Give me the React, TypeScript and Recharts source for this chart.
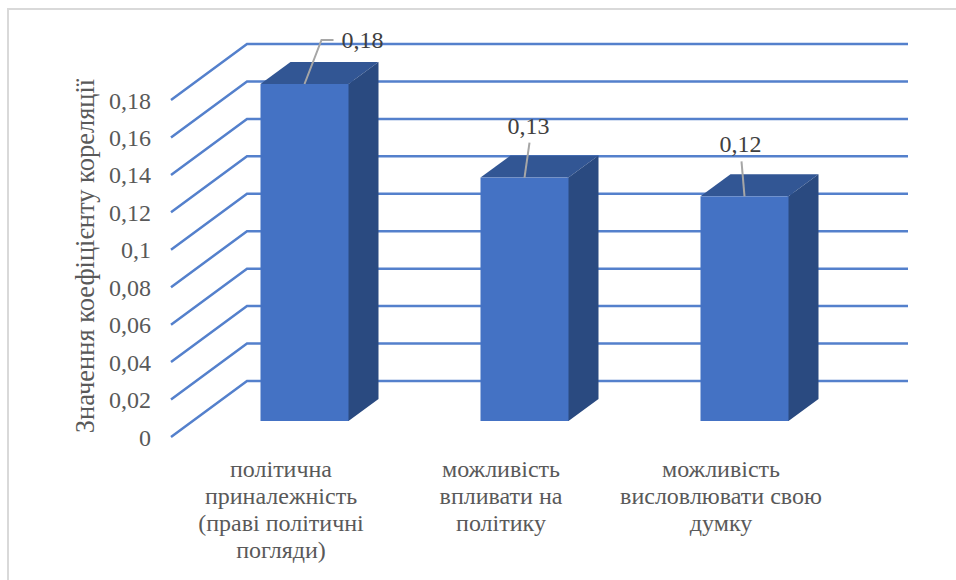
import { BarChart, Bar, XAxis, YAxis, CartesianGrid, LabelList } from 'recharts';

const categories = [
    'політична\nприналежність\n(праві політичні\nпогляди)',
    'можливість\nвпливати на\nполітику',
    'можливість\nвисловлювати свою\nдумку',
];
const correlation = [0.18, 0.13, 0.12];
const yTicks = [0, 0.02, 0.04, 0.06, 0.08, 0.1, 0.12, 0.14, 0.16, 0.18];

const data = categories.map((name, i) => ({ name, value: correlation[i] }));

const FONT = '"Liberation Serif", serif';

// fake 3D: wall is shifted from the front plane, bars sit part way in
const WALL_DX = 76;
const WALL_DY = 56;
const BAR_DX = 23.5;
const BAR_DY = 16;
const DEPTH_DX = 30;
const DEPTH_DY = 22;

const formatTick = (v: number) => String(v).replace('.', ',');

const GridLine = ({ x1, x2, y1 }: any) => (
    <polyline
        points={`${x1},${y1} ${x1 + WALL_DX},${y1 - WALL_DY} ${x2 + WALL_DX + 1},${y1 - WALL_DY}`}
        fill="none"
        stroke="#5480CC"
        strokeWidth={2.5}
    />
);

const Box = ({ x, y, width, height }: any) => {
    const l = x + BAR_DX;
    const r = l + width;
    const t = y - BAR_DY;
    const b = t + height;
    return (
        <g>
            <polygon
                points={`${l},${t} ${l + DEPTH_DX},${t - DEPTH_DY} ${r + DEPTH_DX},${t - DEPTH_DY} ${r},${t}`}
                fill="#325694"
            />
            {/* starts 1px under the front face so no seam shows */}
            <polygon
                points={`${r - 1},${t} ${r},${t} ${r + DEPTH_DX},${t - DEPTH_DY} ${r + DEPTH_DX},${b - DEPTH_DY} ${r},${b} ${r - 1},${b}`}
                fill="#2A4A80"
            />
            <rect x={l} y={t} width={width} height={height} fill="#4472C4" />
        </g>
    );
};

// leader line and text placement relative to the top centre of each bar
const leaders = [
    { line: [[17, -44], [29, -44]], text: [58, -44] },
    { line: [[5, -35]], text: [4, -52] },
    { line: [[-3, -35]], text: [-4, -52] },
];

const ValueLabel = ({ x, y, width, value, index }: any) => {
    const cx = x + BAR_DX + width / 2;
    const top = y - BAR_DY;
    const leader = leaders[index];
    const pts = [[0, 0], ...leader.line].map(([dx, dy]) => `${cx + dx},${top + dy}`).join(' ');
    return (
        <g>
            <polyline points={pts} fill="none" stroke="#A6A6A6" strokeWidth={2} />
            <text
                x={cx + leader.text[0]}
                y={top + leader.text[1]}
                textAnchor="middle"
                dominantBaseline="central"
                fontFamily={FONT}
                fontSize={24}
                fill="#404040"
            >
                {formatTick(value)}
            </text>
        </g>
    );
};

const CategoryTick = ({ x, payload }: any) => (
    <text textAnchor="middle" fontFamily={FONT} fontSize={24} fill="#595959">
        {String(payload.value)
            .split('\n')
            .map((line: string, i: number) => (
                <tspan key={i} x={x} y={477 + i * 27}>
                    {line}
                </tspan>
            ))}
    </text>
);

const AxisTitle = () => (
    <text
        transform="translate(85,256) rotate(-90)"
        textAnchor="middle"
        dominantBaseline="central"
        fontFamily={FONT}
        fontSize={26.5}
        fill="#595959"
    >
        Значення коефіцієнту кореляції
    </text>
);

export default function App() {
    return (
        <div style={{ position: 'absolute', left: 0, top: 0, width: 956, height: 580, overflow: 'hidden', background: '#fff' }}>
            <div
                style={{
                    position: 'absolute',
                    left: 7,
                    top: 8,
                    width: 960,
                    height: 600,
                    borderLeft: '2px solid #d9d9d9',
                    borderTop: '2px solid #d9d9d9',
                }}
            />
            <BarChart
                width={956}
                height={580}
                data={data}
                margin={{ top: 100, right: 125, bottom: 0, left: 0 }}
                barSize={88}
                style={{ position: 'absolute', left: 0, top: 0 }}
            >
                <CartesianGrid vertical={false} horizontal={(props: any) => <GridLine {...props} />} />
                <XAxis dataKey="name" height={143} axisLine={false} tickLine={false} interval={0} tick={<CategoryTick />} />
                <YAxis
                    width={171}
                    domain={[0, 0.18]}
                    ticks={yTicks}
                    interval={0}
                    axisLine={false}
                    tickLine={false}
                    tickSize={0}
                    tickMargin={20}
                    tickFormatter={formatTick}
                    tick={{ fontFamily: FONT, fontSize: 24, fill: '#595959' }}
                    label={{ content: <AxisTitle /> }}
                />
                <Bar dataKey="value" shape={<Box />} isAnimationActive={false}>
                    <LabelList dataKey="value" content={<ValueLabel />} />
                </Bar>
            </BarChart>
        </div>
    );
}
